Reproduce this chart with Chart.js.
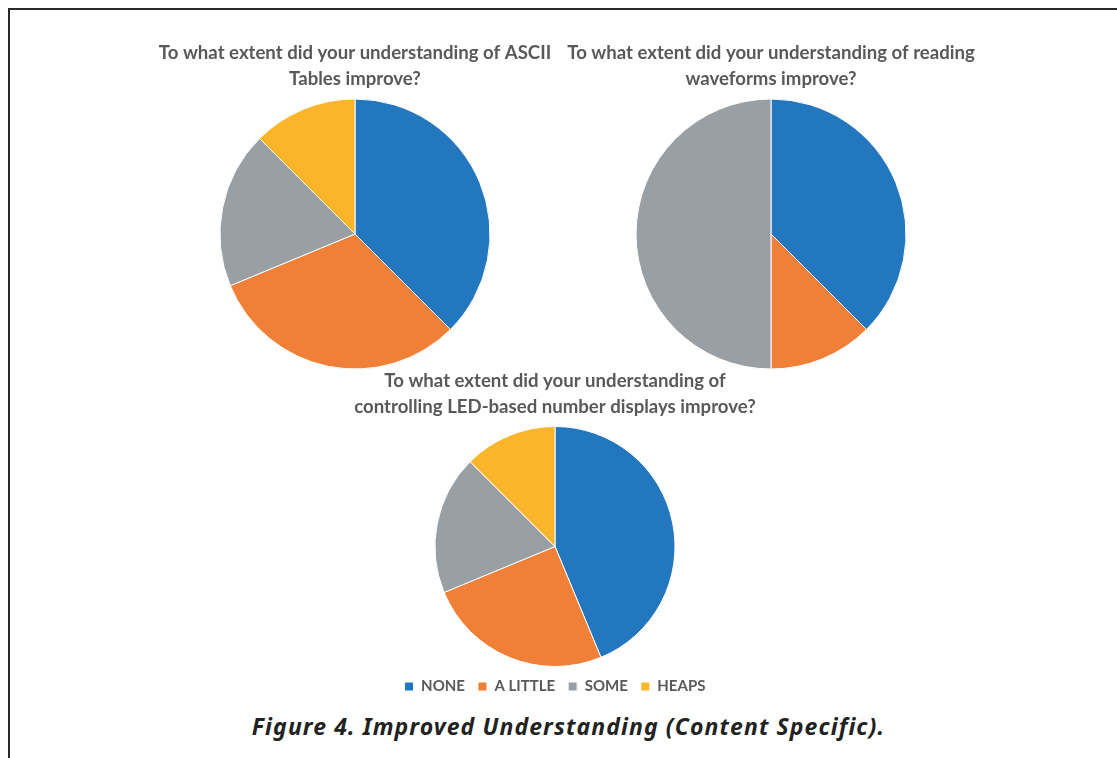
<!DOCTYPE html>
<html>
<head>
<meta charset="utf-8">
<script src="https://cdn.jsdelivr.net/npm/chart.js@4.4.0/dist/chart.umd.min.js"></script>
<style>
  html, body { margin: 0; padding: 0; background: #fff; }
  body { width: 1117px; height: 758px; position: relative; overflow: hidden; }
  .frame { position: absolute; left: 8px; top: 8px; right: -10px; bottom: -10px; border-top: 2px solid #2a2a2a; border-left: 2px solid #2a2a2a; }
  .box { position: absolute; width: 440px; }
  .caption { position: absolute; left: 0; width: 1137px; top: 710px; text-align: center; font-family: "Noto Sans", sans-serif; font-weight: bold; font-style: italic; font-size: 23px; line-height: 32px; color: #222; letter-spacing: 1.1px; }
</style>
</head>
<body>
<div class="frame"></div>
<div class="box" style="left:135px; top:38px; height:331px"><canvas id="pie-ascii"></canvas></div>
<div class="box" style="left:551px; top:38px; height:331px"><canvas id="pie-wave"></canvas></div>
<div class="box" style="left:335px; top:366px; height:338px"><canvas id="pie-led"></canvas></div>
<div class="caption">Figure 4. Improved Understanding (Content Specific).</div>
<script>
const labels = ['NONE', 'A LITTLE', 'SOME', 'HEAPS'];
const colors = ['#2277be', '#f07f37', '#9a9fa3', '#fbb52b'];

const asciiValues = [6, 5, 3, 2];
const waveValues = [6, 2, 8, 0];
const ledValues = [7, 4, 3, 2];

const asciiTitle = ['To what extent did your understanding of ASCII', 'Tables improve?'];
const waveTitle = ['To what extent did your understanding of reading', 'waveforms improve?'];
const ledTitle = ['To what extent did your understanding of', 'controlling LED-based number displays improve?'];

const textClr = '#595959';
const fontFam = 'Lato, "Open Sans", sans-serif';

function makePie(id, values, title, radius, showLegend) {
    return new Chart(document.getElementById(id), {
        type: 'pie',
        data: { labels, datasets: [{ data: values, backgroundColor: colors, borderColor: '#fff', borderWidth: 1 }] },
        options: {
            responsive: true,
            maintainAspectRatio: false,
            animation: false,
            radius: radius,
            layout: { padding: 0 },
            plugins: {
                tooltip: { enabled: false },
                title: {
                    display: true, text: title, color: textClr,
                    padding: { top: 2, bottom: 7 },
                    font: { family: fontFam, size: 18.6, weight: 'bold', lineHeight: 26 / 18.6 }
                },
                legend: {
                    display: showLegend, position: 'bottom',
                    labels: { color: textClr, boxWidth: 9, boxHeight: 9, padding: 13, font: { family: fontFam, size: 15, weight: 'bold' } }
                }
            }
        }
    });
}

makePie('pie-ascii', asciiValues, asciiTitle, 135, false);
makePie('pie-wave', waveValues, waveTitle, 135, false);
makePie('pie-led', ledValues, ledTitle, 120, true);
</script>
</body>
</html>
